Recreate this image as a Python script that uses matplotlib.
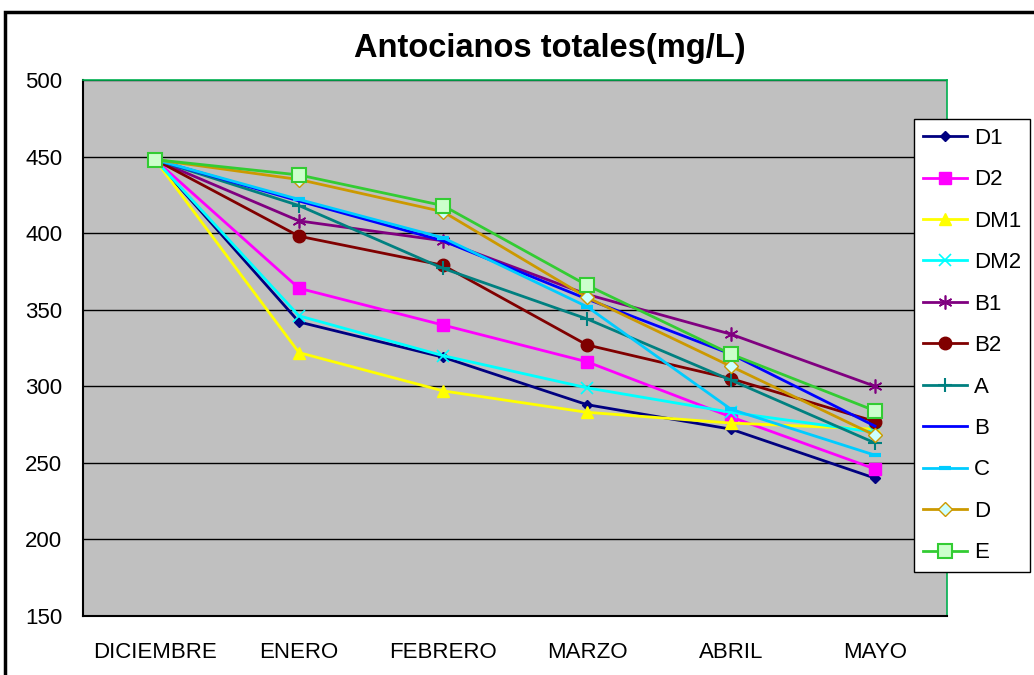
import matplotlib
matplotlib.use("Agg")
import matplotlib.pyplot as plt
from matplotlib.patches import Rectangle

plt.rcParams['font.family'] = ['Liberation Sans', 'DejaVu Sans']

months = ["DICIEMBRE", "ENERO", "FEBRERO", "MARZO", "ABRIL", "MAYO"]
y_ticks = [150, 200, 250, 300, 350, 400, 450, 500]

D1 = [448, 342, 319, 288, 272, 240]
D2 = [448, 364, 340, 316, 280, 246]
DM1 = [448, 322, 297, 283, 276, 272]
DM2 = [448, 346, 320, 299, 283, 270]
B1 = [448, 408, 395, 360, 334, 300]
B2 = [448, 398, 379, 327, 305, 277]
A = [448, 418, 377, 344, 304, 263]
B = [448, 421, 395, 357, 321, 274]
C = [448, 422, 397, 352, 285, 255]
D = [448, 435, 414, 358, 313, 268]
E = [448, 438, 418, 366, 321, 284]

series = [
    ("D1", D1, dict(color="#000080", marker="D", ms=5, mfc="#000080", mec="#000080")),
    ("D2", D2, dict(color="#FF00FF", marker="s", ms=8, mfc="#FF00FF", mec="#FF00FF")),
    ("DM1", DM1, dict(color="#FFFF00", marker="^", ms=9, mfc="#FFFF00", mec="#FFFF00")),
    ("DM2", DM2, dict(color="#00FFFF", marker="x", ms=8, mew=1.2, mec="#00FFFF")),
    ("B1", B1, dict(color="#800080", marker=(6, 2, 0), ms=10, mew=1.2, mec="#800080")),
    ("B2", B2, dict(color="#800000", marker="o", ms=9, mfc="#800000", mec="#800000")),
    ("A", A, dict(color="#008080", marker="+", ms=10, mew=1.5, mec="#008080")),
    ("B", B, dict(color="#0000FF")),
    ("C", C, dict(color="#00CCFF", marker="_", ms=9, mew=3, mec="#00CCFF")),
    ("D", D, dict(color="#CC9900", marker="D", ms=7, mfc="#CCFFFF", mec="#CC9900", mew=1)),
    ("E", E, dict(color="#33CC33", marker="s", ms=10, mfc="#CCFFCC", mec="#33CC33", mew=1.5)),
]

W, H = 1034, 675
fig = plt.figure(figsize=(W / 100, H / 100), dpi=100)
fig.patch.set_facecolor("white")

# chart outline
fig.add_artist(Rectangle((5 / W, -0.05), 1.2, (H - 12) / H + 0.05,
                         transform=fig.transFigure, fill=False,
                         edgecolor="black", linewidth=2.5))

ax = fig.add_axes([83 / W, (H - 616) / H, 864 / W, 536 / H])
ax.set_facecolor("#C0C0C0")

x = list(range(len(months)))
for name, vals, style in series:
    ax.plot(x, vals, label=name, linewidth=2.0, **style)

ax.set_xlim(-0.5, len(months) - 0.5)
ax.set_ylim(150, 500)
ax.set_yticks(y_ticks)
ax.set_xticks(x)
ax.set_xticklabels(months)
ax.tick_params(axis="both", length=0, labelsize=16)
ax.tick_params(axis="x", pad=19)
ax.tick_params(axis="y", pad=15)

ax.grid(axis="y", color="black", linewidth=1.0)
ax.set_axisbelow(True)

for side in ("top", "right"):
    ax.spines[side].set_color("#00B050")
    ax.spines[side].set_linewidth(1.2)
ax.spines["left"].set_color("black")
ax.spines["left"].set_linewidth(1.5)
ax.spines["bottom"].set_color("black")
ax.spines["bottom"].set_linewidth(1.5)

fig.text(550 / W, 1 - 48 / H, "Antocianos totales(mg/L)", ha="center",
         va="center", fontsize=23.5, fontweight="bold")

leg = fig.legend(loc="upper left", bbox_to_anchor=(914 / W, 1 - 119 / H),
                 frameon=True, fancybox=False, fontsize=16, handlelength=2.0,
                 labelspacing=0.92, borderpad=0.4, handletextpad=0.3,
                 borderaxespad=0)
leg.get_frame().set_edgecolor("black")
leg.get_frame().set_linewidth(1.0)
leg.get_frame().set_facecolor("white")
leg.get_frame().set_alpha(1)

fig.savefig("out.png", dpi=100)
